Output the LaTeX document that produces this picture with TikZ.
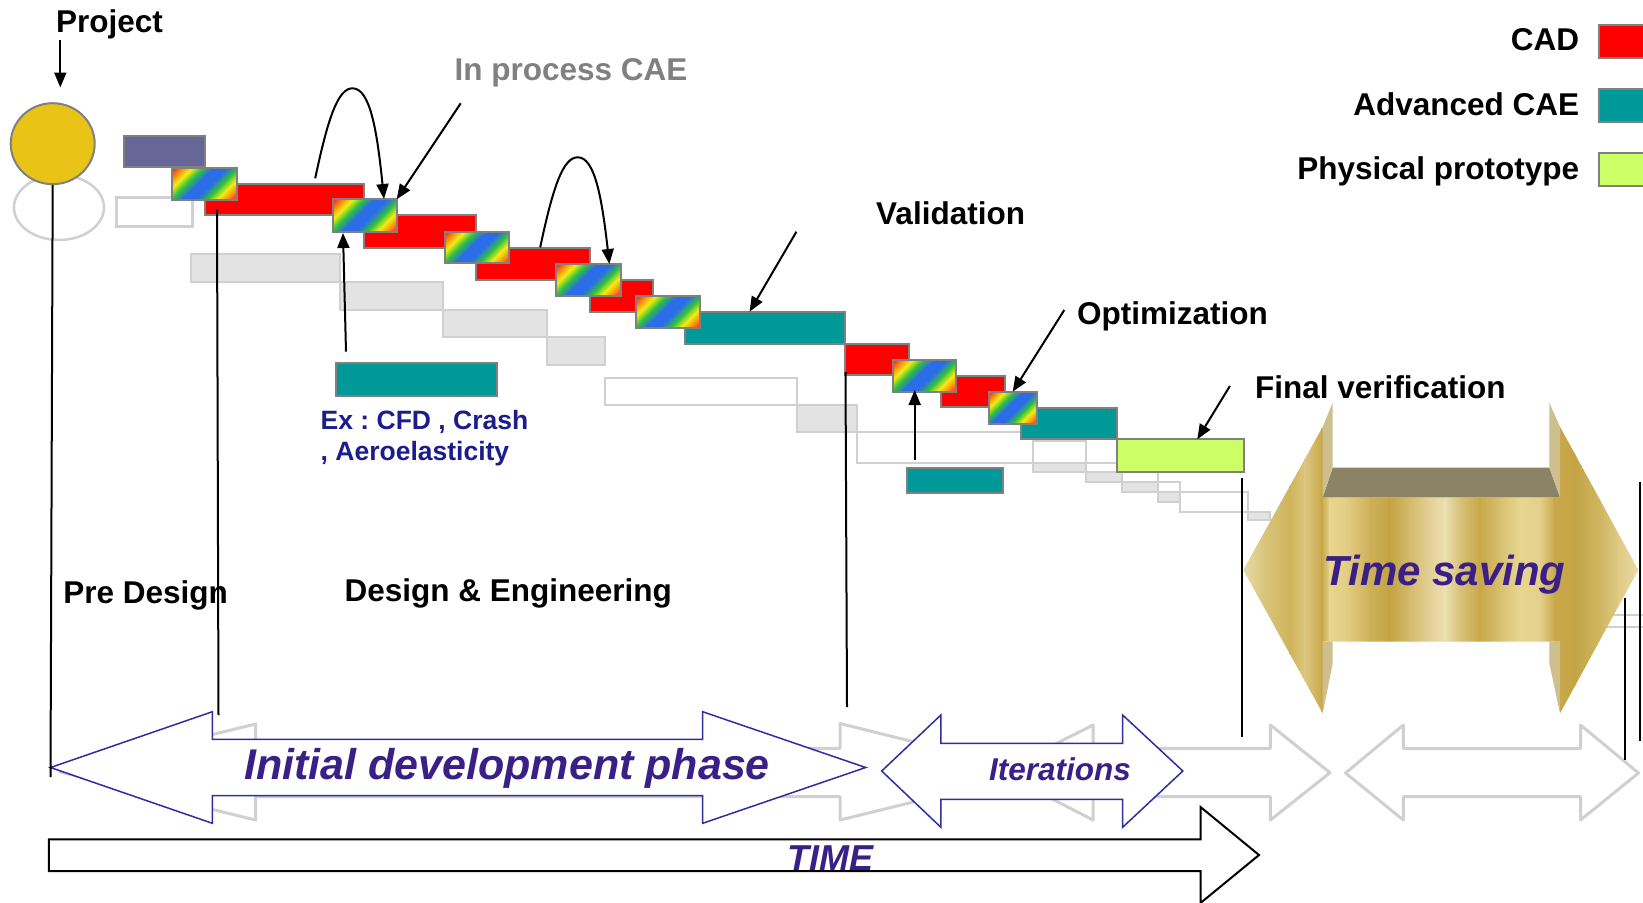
\documentclass[tikz,border=0pt]{standalone}
\usepackage{fontspec}
\setmainfont{Liberation Sans}
\usetikzlibrary{arrows.meta,shapes.geometric}
\frenchspacing
\definecolor{cadred}{HTML}{FF0000}
\definecolor{caeteal}{HTML}{009999}
\definecolor{protogreen}{HTML}{CCFF66}
\definecolor{prepurple}{HTML}{666699}
\definecolor{boxgray}{HTML}{808080}
\definecolor{ghostfill}{HTML}{E3E3E3}
\definecolor{ghostline}{HTML}{D0D0D0}
\definecolor{sunyellow}{HTML}{E9C416}
\definecolor{phasepurple}{HTML}{3A1F87}
\definecolor{arrowblue}{HTML}{2E2E9E}
\definecolor{exblue}{HTML}{1C1C8C}
\definecolor{labgray}{HTML}{808080}
\definecolor{rbred}{HTML}{FF3A1A}
\definecolor{rborange}{HTML}{FF8A10}
\definecolor{rbyel}{HTML}{F2EE10}
\definecolor{rbgreen}{HTML}{2EC040}
\definecolor{rbblue}{HTML}{2C6CE8}
\definecolor{topolive}{HTML}{8A8366}
\definecolor{sidebeige}{HTML}{CDBF8E}
\pgfdeclarehorizontalshading{rainbowdiag}{100bp}{color(0bp)=(rbred); color(17bp)=(rbred); color(22bp)=(rborange); color(29bp)=(rbyel); color(37bp)=(rbgreen); color(45bp)=(rbblue); color(55bp)=(rbblue); color(63bp)=(rbgreen); color(71bp)=(rbyel); color(78bp)=(rborange); color(83bp)=(rbred); color(100bp)=(rbred)}
\newcommand\setfsz[1]{\fontsize{#1}{#1}\selectfont}
\begin{document}
\begin{tikzpicture}[x=1pt,y=-1pt,
  box/.style={draw=boxgray, line width=2pt, inner sep=0pt, outer sep=0pt, anchor=north west, rectangle},
  rbbox/.style={box, shade, shading=rainbowdiag, shading angle=-45},
  ghostl/.style={draw=ghostline, line width=2.5pt},
  ghostbox/.style={draw=ghostline, fill=ghostfill, line width=2pt},
  ghostarrow/.style={draw=ghostline, line width=3pt, line join=round},
  bluearrow/.style={draw=arrowblue, line width=1.5pt, fill=white, line join=miter},
  lab/.style={inner sep=0pt, anchor=base west, font=\setfsz{31.5}\bfseries},
  exlab/.style={inner sep=0pt, anchor=base west, text=exblue, font=\setfsz{26.5}\bfseries},
  phase/.style={inner sep=0pt, anchor=base west, text=phasepurple},
  conn/.style={line width=2pt, -{Triangle[length=15pt,width=12pt]}},
  vline/.style={line width=2pt, black}]
\useasboundingbox (0,0) rectangle (1643,902);
\fill[white] (0,0) rectangle (1643,902);
\clip (0,0) rectangle (1643,902);

% ghosts
\draw[ghostl] (59,207.5) ellipse [x radius=45, y radius=32.5];
\draw[ghostl] (116.7,197.3) rectangle (192.7,226.7);
\foreach \a/\b/\c/\d in {191/254/339.7/282.3, 339.7/282.3/443.3/310, 443.3/310/547.3/337.3, 547.3/337.3/605.4/365, 797.3/405/857.3/431.7,
  1033.3/462.7/1086/472.3, 1086/472.3/1122/481.7, 1122/481.7/1158/492.3, 1158/492.3/1180/501.7, 1248/511.7/1270/520}
  \draw[ghostbox] (\a,\b) rectangle (\c,\d);
\foreach \a/\b/\c/\d in {605.4/377.7/797.3/405, 857.3/431.7/1033.3/462.7, 1033.3/441/1086/472.3, 1086/462.7/1122/481.7,
  1122/472.3/1158/492.3, 1158/482/1180/501.7, 1180/492.3/1248/511.7, 1605/615/1650/627}
  \draw[ghostl, line width=2pt] (\a,\b) rectangle (\c,\d);

\draw[ghostarrow] (60,772)--(255.5,724)--(255.5,748.3)--(840,748.3)--(840,723.5)--(1035,772)--(840,820)--(840,796.7)--(255.5,796.7)--(255.5,820)--cycle;
\draw[ghostarrow] (1000,772)--(1093,725)--(1093,748.3)--(1270.4,748.3)--(1270.4,725)--(1330,772.7)--(1270.4,820)--(1270.4,796.7)--(1093,796.7)--(1093,820)--cycle;
\draw[ghostarrow] (1345.5,773)--(1403.3,725)--(1403.3,748.5)--(1580.5,748.5)--(1580.5,725)--(1638.5,773)--(1580.5,820)--(1580.5,796.7)--(1403.3,796.7)--(1403.3,820)--cycle;

% project circle
\node[ellipse, draw=boxgray, line width=2pt, fill=sunyellow, minimum width=84pt, minimum height=81pt, inner sep=0pt] (proj) at (52.7,143.7) {};

% boxes
\node[box, fill=prepurple, minimum width=80.7pt, minimum height=31.6pt] (pre) at (124,135.7) {};
\node[box, fill=cadred, minimum width=159.3pt, minimum height=31.3pt] (red1) at (204.7,184) {};
\node[box, fill=cadred, minimum width=112pt, minimum height=32.2pt] (red2) at (364,215.3) {};
\node[box, fill=cadred, minimum width=113.7pt, minimum height=32pt] (red3) at (476,248) {};
\node[box, fill=cadred, minimum width=62.8pt, minimum height=31.7pt] (red4) at (589.7,280) {};
\node[box, fill=caeteal, minimum width=160pt, minimum height=32.3pt] (teal1) at (684.6,311.7) {};
\node[box, fill=cadred, minimum width=63.9pt, minimum height=31pt] (red5) at (844.6,344) {};
\node[box, fill=cadred, minimum width=63.9pt, minimum height=31.6pt] (red6) at (940.6,375.7) {};
\node[box, fill=caeteal, minimum width=96pt, minimum height=31.6pt] (teal2) at (1021,407.7) {};
\node[box, fill=protogreen, minimum width=127.2pt, minimum height=32.4pt] (proto) at (1117,439.3) {};
\node[box, fill=caeteal, minimum width=161.2pt, minimum height=32.4pt] (tealex) at (335.7,363.3) {};
\node[box, fill=caeteal, minimum width=96pt, minimum height=25pt] (teals) at (907,467.7) {};
\node[rbbox, minimum width=64.4pt, minimum height=32pt] (rb1) at (172.3,167.7) {};
\node[rbbox, minimum width=64pt, minimum height=32.7pt] (rb2) at (332.7,199.3) {};
\node[rbbox, minimum width=64.8pt, minimum height=31.6pt] (rb3) at (444.6,231.7) {};
\node[rbbox, minimum width=65pt, minimum height=31.7pt] (rb4) at (556,264) {};
\node[rbbox, minimum width=64.1pt, minimum height=32pt] (rb5) at (636.3,295.7) {};
\node[rbbox, minimum width=63.4pt, minimum height=31.7pt] (rb6) at (892.9,360) {};
\node[rbbox, minimum width=47.8pt, minimum height=32.3pt] (rb7) at (988.8,391.7) {};

% legend
\node[box, fill=cadred, minimum width=60pt, minimum height=33.3pt] (legredbox) at (1599.3,25) {};
\node[box, fill=caeteal, minimum width=60pt, minimum height=33.3pt] (legtealbox) at (1599.3,89) {};
\node[box, fill=protogreen, minimum width=60pt, minimum height=33.3pt] (leggreenbox) at (1599.3,152.7) {};
\node[lab, anchor=base east] (legcad) at (1579.3,50) {CAD};
\node[lab, anchor=base east] (legadv) at (1579.3,115) {Advanced CAE};
\node[lab, anchor=base east] (legphys) at (1579.3,179) {Physical prototype};

% gold arrow
\begin{scope}
\clip (1243.3,570)--(1322.7,426.7)--(1322.7,497.3)--(1560,497.3)--(1560,426.7)--(1638.3,570)--(1560,713.3)--(1560,641.7)--(1322.7,641.7)--(1322.7,713.3)--cycle;
\foreach \xa/\ca/\xb/\cb in {1243/E6DBA8/1265/D9C47A, 1265/D9C47A/1290/D0B45C, 1290/D0B45C/1305/DCC680, 1305/DCC680/1322/C9A94A,
  1322/C9A94A/1330/E8D58E, 1330/E8D58E/1345/E4CF86, 1345/E4CF86/1370/CDB05A, 1370/CDB05A/1390/C4A442, 1390/C4A442/1410/D4BB6E,
  1410/D4BB6E/1435/E6D6A0, 1435/E6D6A0/1445/EBDFB0, 1445/EBDFB0/1460/D8C27A, 1460/D8C27A/1480/C8A848, 1480/C8A848/1500/D8C072,
  1500/D8C072/1520/E8D690, 1520/E8D690/1540/E4D08A, 1540/E4D08A/1555/C8A848, 1555/C8A848/1575/C4A444, 1575/C4A444/1600/D0B662,
  1600/D0B662/1620/E0CC88, 1620/E0CC88/1640/E8DCA8}
  {\definecolor{gca}{HTML}{\ca}\definecolor{gcb}{HTML}{\cb}
   \shade[left color=gca, right color=gcb] (\xa-0.3,400) rectangle (\xb+0.3,720);}
\end{scope}
\fill[topolive] (1322.7,497.3)--(1332.7,467.7)--(1549.3,467.7)--(1560,497.3)--cycle;
\fill[sidebeige] (1322.7,426.7)--(1332.7,402.7)--(1332.7,467.7)--(1322.7,497.3)--cycle;
\fill[sidebeige] (1560,426.7)--(1549.3,402.7)--(1549.3,467.7)--(1560,497.3)--cycle;
\fill[sidebeige] (1322.7,641.7)--(1332.7,641.7)--(1332.7,663.3)--(1322.7,713.3)--cycle;
\fill[sidebeige] (1560,641.7)--(1549.3,641.7)--(1549.3,663.3)--(1560,713.3)--cycle;
\node[phase, font=\setfsz{42}\bfseries\itshape] (tsave) at (1323.3,585) {Time saving};

% blue double arrows
\draw[bluearrow] (50.5,767.5)--(212.4,711.7)--(212.4,739.3)--(702.6,739.3)--(702.6,711.7)--(865.7,767.5)--(702.6,823.3)--(702.6,795.7)--(212.4,795.7)--(212.4,823.3)--cycle;
\draw[bluearrow] (881.7,771)--(940.9,715)--(940.9,743.3)--(1122.6,743.3)--(1122.6,715)--(1182.8,771)--(1122.6,827.3)--(1122.6,799.3)--(940.9,799.3)--(940.9,827.3)--cycle;
\node[phase, font=\setfsz{43}\bfseries\itshape] (initdev) at (244,779) {Initial development phase};
\node[phase, font=\setfsz{31.5}\bfseries\itshape] (iter) at (989,780) {Iterations};

% time arrow
\draw[line width=2pt, fill=white, line join=miter] (48.8,839.3)--(1200.5,839.3)--(1200.5,807)--(1259,855)--(1200.5,903)--(1200.5,871)--(48.8,871)--cycle;
\node[phase, font=\setfsz{36}\bfseries\itshape] (time) at (787.6,870) {TIME};

% vertical lines
\draw[vline] (proj.south) -- (50.5,777);
\draw[vline] (217,209) -- (218.5,715);
\draw[vline] (845.5,372) -- (847,707);
\draw[vline] (1241.5,478) -- (1241.5,737);
\draw[vline] (1639.5,482) -- (1639.5,741);
\draw[vline] (1624.5,598) -- (1624.5,760);

% labels
\node[lab] (project) at (55.8,32.7) {Project};
\node[lab, text=labgray] (inproc) at (454.5,80) {In process CAE};
\node[lab] (valid) at (876,224) {Validation};
\node[lab] (optim) at (1076.8,324) {Optimization};
\node[lab] (finver) at (1255,398) {Final verification};
\node[lab] (predes) at (63.1,603.3) {Pre Design};
\node[lab] (deseng) at (344.4,601) {Design \& Engineering};
\node[exlab] (ex1) at (320.5,429) {Ex : CFD , Crash};
\node[exlab] (ex2) at (320.5,460) {, Aeroelasticity};

% connectors
\coordinate (pa) at (60.3,39.5);
\coordinate (pb) at (60.3,87.5);
\draw[conn] (pa) -- (pb);
\coordinate (ipa) at (460.7,103.3);
\draw[conn] (ipa) -- (rb2.north east);
\coordinate (la) at (315.2,178.3);
\coordinate (lb) at (384,199);
\draw[conn] (la) .. controls (328,118) and (338,88) .. (352.7,88.3) .. controls (370,88.6) and (377,130) .. (lb);
\coordinate (lc) at (540.2,247.3);
\coordinate (ld) at (609.4,264);
\draw[conn] (lc) .. controls (553,187) and (563,157) .. (578,157.3) .. controls (595,157.6) and (602,199) .. (ld);
\coordinate (ua) at (346,351.7);
\coordinate (ub2) at (343,233);
\draw[conn] (ua) -- (ub2);
\coordinate (va) at (796.4,231.7);
\coordinate (vb) at (749.6,311.7);
\draw[conn] (va) -- (vb);
\coordinate (oa) at (1064.3,310);
\draw[conn] (oa) -- (rb7.north);
\coordinate (fa) at (1229.9,386);
\coordinate (fb) at (1197.3,439.3);
\draw[conn] (fa) -- (fb);
\coordinate (ub) at (914.7,460);
\coordinate (uc) at (914.7,390);
\draw[conn] (ub) -- (uc);
\end{tikzpicture}
\end{document}
